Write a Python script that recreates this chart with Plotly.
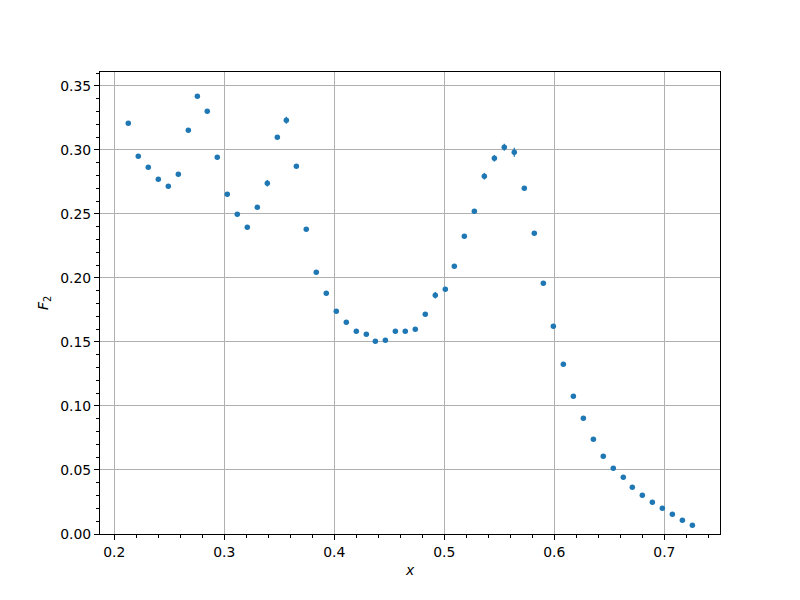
import plotly.graph_objects as go

x_vals = [0.2127, 0.2218, 0.2309, 0.2400, 0.2491, 0.2582, 0.2673, 0.2755, 0.2845, 0.2936,
          0.3027, 0.3118, 0.3209, 0.3300, 0.3391, 0.3482, 0.3564, 0.3655, 0.3745, 0.3836,
          0.3927, 0.4018, 0.4109, 0.4200, 0.4291, 0.4373, 0.4464, 0.4555, 0.4645, 0.4736,
          0.4827, 0.4918, 0.5009, 0.5091, 0.5182, 0.5273, 0.5364, 0.5455, 0.5545, 0.5636,
          0.5727, 0.5818, 0.5900, 0.5991, 0.6082, 0.6173, 0.6264, 0.6355, 0.6445, 0.6536,
          0.6627, 0.6709, 0.6800, 0.6891, 0.6982, 0.7073, 0.7164, 0.7255]
f2_vals = [0.3209, 0.2951, 0.2865, 0.2771, 0.2716, 0.2810, 0.3154, 0.3420, 0.3302, 0.2943,
           0.2654, 0.2498, 0.2396, 0.2552, 0.2740, 0.3099, 0.3232, 0.2873, 0.2380, 0.2045,
           0.1880, 0.1740, 0.1654, 0.1584, 0.1560, 0.1505, 0.1513, 0.1584, 0.1584, 0.1599,
           0.1716, 0.1865, 0.1912, 0.2091, 0.2326, 0.2521, 0.2795, 0.2935, 0.3021, 0.2982,
           0.2701, 0.2349, 0.1959, 0.1623, 0.1326, 0.1076, 0.0904, 0.0740, 0.0607, 0.0513,
           0.0443, 0.0365, 0.0302, 0.0248, 0.0201, 0.0154, 0.0107, 0.0068]
f2_err = [0.0015, 0.0015, 0.0015, 0.0015, 0.0015, 0.0015, 0.0015, 0.0015, 0.0015, 0.0015,
          0.0015, 0.0015, 0.0015, 0.0015, 0.0026, 0.0015, 0.0028, 0.0015, 0.0015, 0.0015,
          0.0015, 0.0015, 0.0015, 0.0015, 0.0015, 0.0015, 0.0015, 0.0015, 0.0015, 0.0015,
          0.0015, 0.0026, 0.0015, 0.0015, 0.0015, 0.0015, 0.0026, 0.0026, 0.0028, 0.0036,
          0.0015, 0.0015, 0.0015, 0.0015, 0.0015, 0.0015, 0.0015, 0.0015, 0.0015, 0.0015,
          0.0010, 0.0010, 0.0010, 0.0010, 0.0010, 0.0010, 0.0010, 0.0010]

blue = "#1f77b4"
fig = go.Figure()
fig.add_trace(go.Scatter(
    x=x_vals, y=f2_vals, mode="markers",
    marker=dict(color=blue, size=5.5, line=dict(width=0)),
    error_y=dict(type="data", array=f2_err, visible=True, color=blue, thickness=1.3, width=0),
    showlegend=False,
))

axis_common = dict(
    showline=True, linecolor="black", linewidth=1, mirror=True,
    ticks="outside", ticklen=5, tickwidth=1, tickcolor="black",
    showgrid=True, gridcolor="#b0b0b0", gridwidth=1.1,
    zeroline=False,
    tickfont=dict(family="DejaVu Sans", size=13.9, color="black"),
)

fig.update_xaxes(
    range=[0.187, 0.7506], tick0=0.2, dtick=0.1, tickformat=".1f",
    minor=dict(ticks="outside", ticklen=3, tickwidth=1, tickcolor="black", dtick=0.02, tick0=0.2, showgrid=False),
    title=dict(text="<i>x</i>", font=dict(family="DejaVu Sans", size=13.9, color="black"), standoff=6),
    **axis_common,
)
fig.update_yaxes(
    range=[0, 0.3609], tick0=0, dtick=0.05, tickformat=".2f",
    minor=dict(ticks="outside", ticklen=3, tickwidth=1, tickcolor="black", dtick=0.01, tick0=0, showgrid=False),
    title=dict(text="<i>F</i><sub>2</sub>", font=dict(family="DejaVu Sans", size=13.9, color="black"), standoff=8),
    **axis_common,
)

fig.update_layout(
    width=800, height=600,
    margin=dict(l=92, r=88, t=64, b=74),
    plot_bgcolor="white", paper_bgcolor="white",
    font=dict(family="DejaVu Sans", color="black"),
)

fig.write_html("out.html")
